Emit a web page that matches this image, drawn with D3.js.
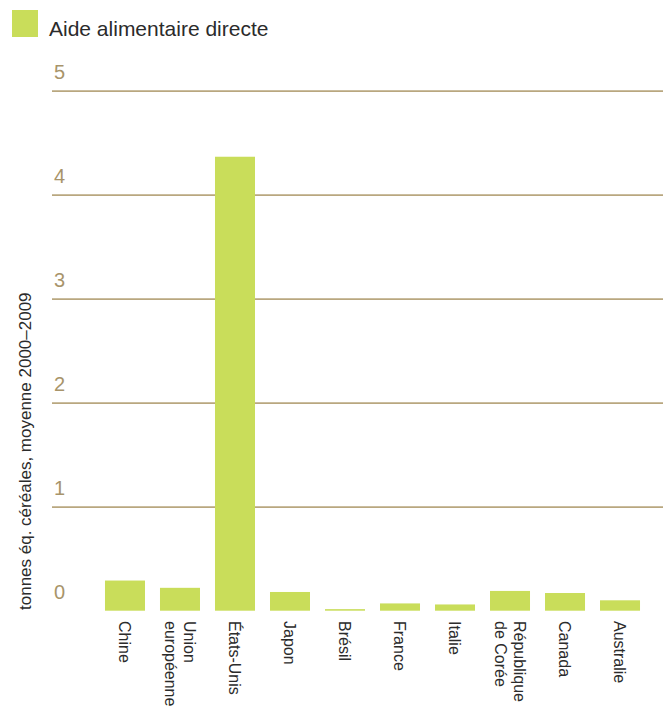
<!DOCTYPE html>
<html>
<head>
<meta charset="utf-8">
<script src="https://cdn.jsdelivr.net/npm/d3@7"></script>
<style>
  html, body { margin: 0; padding: 0; background: #fff; }
  svg { display: block; }
  text { font-family: "Liberation Sans", Arial, sans-serif; }
</style>
</head>
<body>
<div id="chart"></div>
<script>
// Direct food aid, average 2000–2009 (million tonnes cereal equivalent)
const categories = [
  ["Chine"],
  ["Union", "européenne"],
  ["États-Unis"],
  ["Japon"],
  ["Brésil"],
  ["France"],
  ["Italie"],
  ["République", "de Corée"],
  ["Canada"],
  ["Australie"]
];
const values = [0.29, 0.22, 4.365, 0.18, 0.015, 0.07, 0.06, 0.19, 0.17, 0.10];
const tickValues = [0, 1, 2, 3, 4, 5];
const seriesName = "Aide alimentaire directe";
const yTitle = "tonnes éq. céréales, moyenne 2000–2009";

const W = 663, H = 708;
const barColor = "#c9dd5a";
const gridColor = "#b9a77f";
const tickColor = "#a8946a";
const textColor = "#2b2b2b";

const svg = d3.select("#chart").append("svg")
  .attr("width", W).attr("height", H);

const y = d3.scaleLinear().domain([0, 5]).range([610.7, 90.7]);
const x = d3.scaleBand()
  .domain(categories.map((c, i) => i))
  .range([97.5, 647.5])
  .paddingInner(0.2727)
  .paddingOuter(0.136);

// gridlines + value labels
const axis = svg.append("g")
  .attr("transform", "translate(52,0)")
  .call(d3.axisRight(y).tickValues(tickValues).tickSize(W - 52).tickFormat(d3.format("d")));
axis.select(".domain").remove();
axis.selectAll(".tick line")
  .attr("stroke", gridColor)
  .attr("stroke-width", 1.7)
  .attr("display", d => d === 0 ? "none" : null);
axis.selectAll(".tick text")
  .attr("x", 2)
  .attr("y", -12)
  .attr("dy", null)
  .attr("text-anchor", "start")
  .attr("fill", tickColor)
  .attr("font-size", 20);

// bars
svg.append("g").selectAll("rect")
  .data(values)
  .join("rect")
  .attr("x", (d, i) => x(i))
  .attr("width", x.bandwidth())
  .attr("y", d => y(d))
  .attr("height", d => y(0) - y(d))
  .attr("fill", barColor);

// category labels, rotated to read downward
const lh = 19;
const labels = svg.append("g").selectAll("g")
  .data(categories)
  .join("g")
  .attr("transform", (c, i) => `translate(${x(i) + x.bandwidth() / 2},621) rotate(90)`);
labels.each(function(lines) {
  const t = d3.select(this).append("text")
    .attr("font-size", 16)
    .attr("fill", textColor);
  lines.forEach((ln, k) => {
    t.append("tspan")
      .attr("x", 0)
      .attr("y", (k - (lines.length - 1) / 2) * lh + 5.6)
      .text(ln);
  });
});

// y-axis title
svg.append("text")
  .attr("transform", "translate(31,610) rotate(-90)")
  .attr("text-anchor", "start")
  .attr("font-size", 17)
  .attr("fill", textColor)
  .text(yTitle);

// legend
svg.append("rect")
  .attr("x", 12).attr("y", 10)
  .attr("width", 26).attr("height", 27)
  .attr("fill", barColor);
svg.append("text")
  .attr("x", 49).attr("y", 36)
  .attr("font-size", 21)
  .attr("fill", textColor)
  .text(seriesName);
</script>
</body>
</html>
